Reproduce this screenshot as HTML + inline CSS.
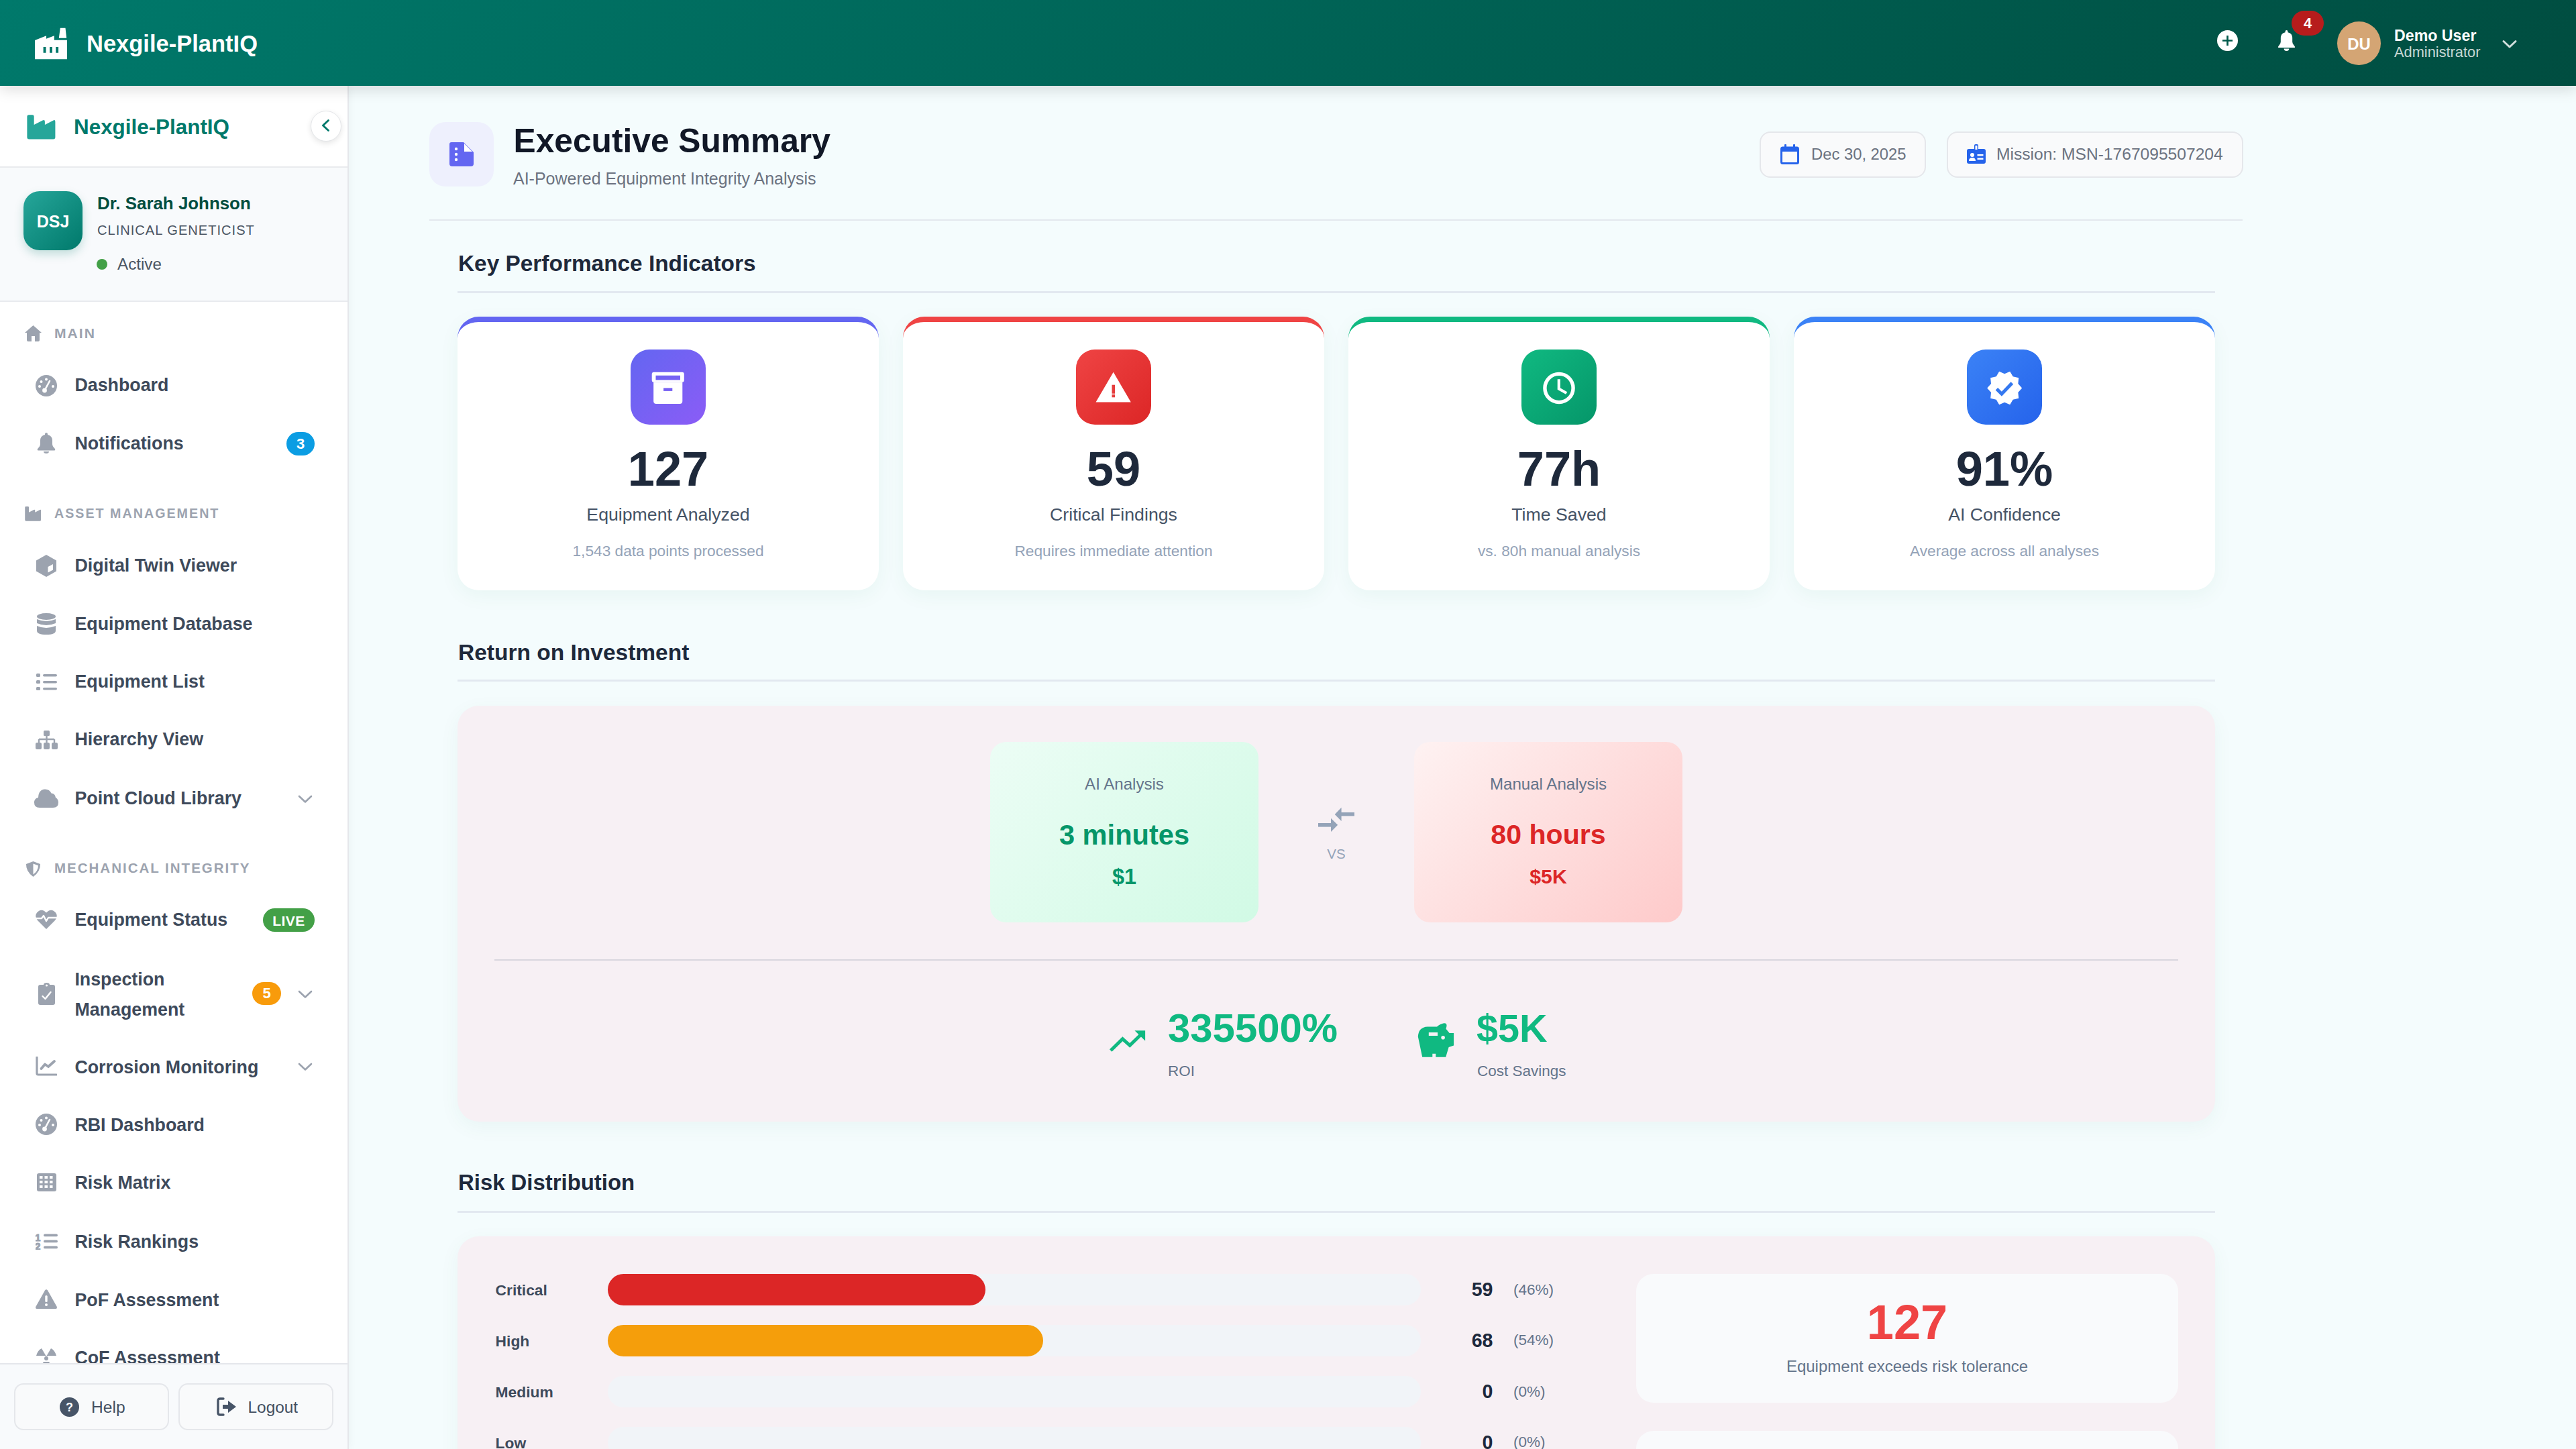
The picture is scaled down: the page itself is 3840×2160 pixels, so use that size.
<!DOCTYPE html>
<html><head><meta charset="utf-8"><title>Executive Summary</title>
<style>
html,body{margin:0;padding:0;}
body{width:3840px;height:2160px;position:relative;overflow:hidden;background:#f4fcfd;font-family:"Liberation Sans", sans-serif;}
.t{position:absolute;line-height:1;white-space:nowrap;font-family:"Liberation Sans", sans-serif;}
svg{display:block;}
@media (max-width: 2600px) { html { zoom: 0.5; } }
</style></head><body>

<div style="position:absolute;left:520px;top:128px;width:3320px;height:2032px;background:#f4fcfd;"></div>
<div style="position:absolute;left:0px;top:0px;width:3840px;height:128px;background:linear-gradient(135deg,#00796b 0%,#004d40 100%);box-shadow:0 6px 20px rgba(0,0,0,0.13);z-index:5;"></div>
<div style="position:absolute;left:0;top:0;width:3840px;height:128px;z-index:6;">
<svg style="position:absolute;left:40px;top:30px;" width="70" height="70" viewBox="0 0 70 70"><path fill="#fff" fill-rule="evenodd" d="M49.8 11.8 H57.5 L59.2 26.8 H47.8 Z M12.1 30 L29 23.2 V27.8 L40.8 23.2 V29.7 H59.9 V58.2 H12.1 Z M24.6 40.1 V48.8 H28.5 V40.1 Z M34 40.1 V48.8 H37.9 V40.1 Z M43.2 40.1 V48.8 H47.1 V40.1 Z"/></svg>
<div class="t" style="left:129px;top:47.8px;font-size:34.5px;font-weight:700;color:#ffffff;">Nexgile-PlantIQ</div>
<svg style="position:absolute;left:3305px;top:45px;" width="31" height="31" viewBox="0 0 32 32"><circle cx="16" cy="16" r="16" fill="#fff"/><path d="M16 9.6 V22.4 M9.6 16 H22.4" stroke="#005a4b" stroke-width="2.8" stroke-linecap="square"/></svg>
<svg style="position:absolute;left:3395px;top:45px;" width="27" height="31" viewBox="0 0 28 32"><path fill="#fff" d="M14 0 Q16 0 16 2 V3.2 Q23 4.6 23 12 V18 Q23 21 26 24 Q27 25 27 26 Q27 27 25.5 27 H2.5 Q1 27 1 26 Q1 25 2 24 Q5 21 5 18 V12 Q5 4.6 12 3.2 V2 Q12 0 14 0 Z M10 28.5 H18 Q18 32 14 32 Q10 32 10 28.5 Z"/></svg>
<div style="position:absolute;left:3416px;top:16px;width:48px;height:37px;background:#b71c1c;border-radius:19px;"></div>
<div class="t" style="left:2440px;width:2000px;text-align:center;top:24.4px;font-size:22px;font-weight:700;color:#fff;">4</div>
<div style="position:absolute;left:3484px;top:32px;width:65px;height:65px;background:#d4a574;border-radius:50%;"></div>
<div class="t" style="left:2516.5px;width:2000px;text-align:center;top:54.2px;font-size:24px;font-weight:700;color:#fff;">DU</div>
<div class="t" style="left:3569px;top:41.9px;font-size:23.2px;font-weight:700;color:#fff;">Demo User</div>
<div class="t" style="left:3569px;top:67.2px;font-size:21.8px;font-weight:400;color:rgba(255,255,255,0.78);">Administrator</div>
<svg style="position:absolute;left:3729px;top:58px;" width="24" height="16" viewBox="0 0 24 16"><path d="M3 3.5 L12 12 L21 3.5" fill="none" stroke="rgba(255,255,255,0.82)" stroke-width="3.0" stroke-linecap="round" stroke-linejoin="round"/></svg>
</div>
<div style="position:absolute;left:0px;top:128px;width:518px;height:2032px;background:#ffffff;box-shadow:2px 0 12px rgba(0,0,0,0.05);"></div>
<div style="position:absolute;left:518px;top:128px;width:1.5px;height:2032px;background:#e5e7eb;"></div>
<svg style="position:absolute;left:40px;top:171px;" width="44" height="37" viewBox="0 0 44 37"><path fill="#26a69a" d="M3 0.2 H8.2 Q10.7 0.2 10.7 2.7 V14.9 L23.5 8.5 Q26.9 7 26.9 10.5 V14.9 L39.5 8.5 Q42.4 7 42.4 10.5 V33.6 Q42.4 36.6 39.4 36.6 H3.4 Q0.4 36.6 0.4 33.6 V2.7 Q0.4 0.2 3 0.2 Z"/></svg>
<div class="t" style="left:110px;top:173.9px;font-size:31.4px;font-weight:700;color:#00796b;">Nexgile-PlantIQ</div>
<div style="position:absolute;left:463px;top:165px;width:46px;height:46px;background:#fff;border:1.5px solid #e3e5e8;border-radius:50%;box-sizing:border-box;box-shadow:0 3px 8px rgba(0,0,0,0.10);"></div>
<svg style="position:absolute;left:478px;top:176px;" width="16" height="22" viewBox="0 0 16 22"><path d="M11.5 3.5 L3.5 11 L11.5 18.5" fill="none" stroke="#00796b" stroke-width="3.0" stroke-linecap="round" stroke-linejoin="round"/></svg>
<div style="position:absolute;left:0px;top:248px;width:518px;height:2px;background:#e9ebee;"></div>
<div style="position:absolute;left:0px;top:250px;width:518px;height:198px;background:#f8fafc;"></div>
<div style="position:absolute;left:0px;top:448px;width:518px;height:2px;background:#e9ebee;"></div>
<div style="position:absolute;left:35px;top:285px;width:88px;height:88px;background:linear-gradient(135deg,#26a69a,#00796b);border-radius:24px;box-shadow:0 6px 14px rgba(0,121,107,0.22);"></div>
<div class="t" style="left:-921px;width:2000px;text-align:center;top:317.8px;font-size:25px;font-weight:700;color:#fff;">DSJ</div>
<div class="t" style="left:145px;top:290.5px;font-size:25.9px;font-weight:700;color:#004d40;">Dr. Sarah Johnson</div>
<div class="t" style="left:145px;top:332.7px;font-size:20.1px;font-weight:400;color:#4b5563;letter-spacing:1px;">CLINICAL GENETICIST</div>
<div style="position:absolute;left:144px;top:386px;width:16px;height:16px;background:#43a047;border-radius:50%;"></div>
<div class="t" style="left:175px;top:381.5px;font-size:24.2px;font-weight:400;color:#4b5563;">Active</div>
<div class="t" style="left:81px;top:485.9px;font-size:21.1px;font-weight:700;color:#9ca3af;letter-spacing:2px;">MAIN</div>
<svg style="position:absolute;left:37px;top:485px" width="25" height="24" viewBox="0 0 25 24"><path fill="#9ca3af" d="M12.5 0 L25 11 H22 V22 Q22 24 20 24 H15 V16 H10 V24 H5 Q3 24 3 22 V11 H0 Z"/></svg>
<svg style="position:absolute;left:53px;top:559px;" width="32" height="32" viewBox="0 0 32 32"><circle cx="16" cy="16" r="16" fill="#9ca3af"/><circle cx="16" cy="6.5" r="2" fill="#fff"/><circle cx="8.5" cy="10" r="2" fill="#fff"/><circle cx="6" cy="17" r="2" fill="#fff"/><circle cx="26" cy="17" r="2" fill="#fff"/><path d="M13.5 23 L21 9" stroke="#fff" stroke-width="2.6" stroke-linecap="round"/><circle cx="13.5" cy="23" r="3.4" fill="#fff"/></svg>
<div class="t" style="left:111.4px;top:561.0px;font-size:26.8px;font-weight:700;color:#3e4a5b;">Dashboard</div>
<svg style="position:absolute;left:55px;top:645px;" width="28" height="31" viewBox="0 0 28 31"><path fill="#9ca3af" d="M14 0 Q16 0 16 2 V3 Q23 4.5 23 12 V17 Q23 20 26.5 23.5 Q28 25 27 26 Q26.5 26.5 25.5 26.5 H2.5 Q1.5 26.5 1 26 Q0 25 1.5 23.5 Q5 20 5 17 V12 Q5 4.5 12 3 V2 Q12 0 14 0 Z M10 28 H18 Q18 31 14 31 Q10 31 10 28 Z"/></svg>
<div class="t" style="left:111.4px;top:648.3px;font-size:26.8px;font-weight:700;color:#3e4a5b;">Notifications</div>
<div style="position:absolute;left:427px;top:644px;width:42px;height:35px;background:#0b9de3;border-radius:18px;"></div>
<div class="t" style="left:-552px;width:2000px;text-align:center;top:650.9px;font-size:22px;font-weight:700;color:#fff;">3</div>
<div class="t" style="left:81px;top:755.6px;font-size:19.7px;font-weight:700;color:#9ca3af;letter-spacing:2px;">ASSET MANAGEMENT</div>
<svg style="position:absolute;left:37px;top:755px" width="25" height="22" viewBox="0 0 44 37" preserveAspectRatio="none"><path fill="#9ca3af" d="M3 0.2 H8.2 Q10.7 0.2 10.7 2.7 V14.9 L23.5 8.5 Q26.9 7 26.9 10.5 V14.9 L39.5 8.5 Q42.4 7 42.4 10.5 V33.6 Q42.4 36.6 39.4 36.6 H3.4 Q0.4 36.6 0.4 33.6 V2.7 Q0.4 0.2 3 0.2 Z"/></svg>
<svg style="position:absolute;left:54px;top:827px;" width="30" height="33" viewBox="0 0 30 33"><path fill="#9ca3af" d="M15 0 L30 8.5 V24.5 L15 33 L0 24.5 V8.5 Z"/><path fill="#fff" d="M17.5 18 L25 14 V22.5 L17.5 26.5 Z"/></svg>
<div class="t" style="left:111.4px;top:830.3px;font-size:26.8px;font-weight:700;color:#3e4a5b;">Digital Twin Viewer</div>
<svg style="position:absolute;left:55px;top:914px;" width="28" height="32" viewBox="0 0 28 32"><ellipse cx="14" cy="5" rx="14" ry="5" fill="#9ca3af"/><path fill="#9ca3af" d="M0 9 Q14 15 28 9 V15 Q14 21 0 15 Z M0 19 Q14 25 28 19 V26 Q28 32 14 32 Q0 32 0 26 Z"/></svg>
<div class="t" style="left:111.4px;top:917.0px;font-size:26.8px;font-weight:700;color:#3e4a5b;">Equipment Database</div>
<svg style="position:absolute;left:54px;top:1004px;" width="31" height="25" viewBox="0 0 31 25"><rect x="0" y="0" width="6" height="5" rx="1.5" fill="#9ca3af"/><rect x="0" y="10" width="6" height="5" rx="1.5" fill="#9ca3af"/><rect x="0" y="20" width="6" height="5" rx="1.5" fill="#9ca3af"/><rect x="10" y="1" width="21" height="3.4" rx="1.7" fill="#9ca3af"/><rect x="10" y="11" width="21" height="3.4" rx="1.7" fill="#9ca3af"/><rect x="10" y="21" width="21" height="3.4" rx="1.7" fill="#9ca3af"/></svg>
<div class="t" style="left:111.4px;top:1003.3px;font-size:26.8px;font-weight:700;color:#3e4a5b;">Equipment List</div>
<svg style="position:absolute;left:53px;top:1089px;" width="33" height="28" viewBox="0 0 33 28"><rect x="12" y="0" width="9" height="8" rx="1.5" fill="#9ca3af"/><path d="M16.5 8 V13 M5 13 H28 M5 13 V18 M16.5 13 V18 M28 13 V18" stroke="#9ca3af" stroke-width="2.4" fill="none"/><rect x="0" y="18" width="9" height="10" rx="2" fill="#9ca3af"/><rect x="12" y="18" width="9" height="10" rx="2" fill="#9ca3af"/><rect x="24" y="18" width="9" height="10" rx="2" fill="#9ca3af"/></svg>
<div class="t" style="left:111.4px;top:1089.3px;font-size:26.8px;font-weight:700;color:#3e4a5b;">Hierarchy View</div>
<svg style="position:absolute;left:51px;top:1176px;" width="36" height="28" viewBox="0 0 36 28"><path fill="#9ca3af" d="M8 28 Q0 28 0 20.5 Q0 14 6 13 Q6.5 1 16 0.5 Q23 0.5 25.5 6.5 Q31 6.5 32 13 Q36 15 36 20.5 Q36 28 28 28 Z"/></svg>
<div class="t" style="left:111.4px;top:1177.3px;font-size:26.8px;font-weight:700;color:#3e4a5b;">Point Cloud Library</div>
<svg style="position:absolute;left:443px;top:1184px;" width="24" height="15" viewBox="0 0 24 15"><path d="M3 3 L12 11.5 L21 3" fill="none" stroke="#9ca3af" stroke-width="2.6" stroke-linecap="round" stroke-linejoin="round"/></svg>
<div class="t" style="left:81px;top:1283.7px;font-size:20.5px;font-weight:700;color:#9ca3af;letter-spacing:2px;">MECHANICAL INTEGRITY</div>
<svg style="position:absolute;left:38px;top:1284px" width="23" height="23" viewBox="0 0 23 23"><path fill="#9ca3af" d="M11.5 0 L22 4 Q22.5 15 11.5 23 Q0.5 15 1 4 Z"/><path fill="#fff" d="M11.5 3.5 L19 6.3 Q18.8 14.5 11.5 19.5 Z"/></svg>
<svg style="position:absolute;left:53px;top:1356px;" width="32" height="29" viewBox="0 0 32 29"><path fill="#9ca3af" d="M16 29 L3 16 Q-2 10 2 4.5 Q7 -1.5 13 2 L16 4.5 L19 2 Q25 -1.5 30 4.5 Q34 10 29 16 Z"/><path d="M0 13 H9 L12 9 L16 17 L19 12 H32" fill="none" stroke="#fff" stroke-width="2.4" stroke-linejoin="round"/></svg>
<div class="t" style="left:111.4px;top:1358.3px;font-size:26.8px;font-weight:700;color:#3e4a5b;">Equipment Status</div>
<div style="position:absolute;left:392px;top:1354px;width:77px;height:35px;background:#43a047;border-radius:18px;"></div>
<div class="t" style="left:-569.5px;width:2000px;text-align:center;top:1362.2px;font-size:21px;font-weight:700;color:#fff;letter-spacing:0.5px;">LIVE</div>
<svg style="position:absolute;left:57px;top:1465px;" width="25" height="33" viewBox="0 0 25 33"><path fill="#9ca3af" d="M3 3 H8 Q8 0 12.5 0 Q17 0 17 3 H22 Q25 3 25 6 V30 Q25 33 22 33 H3 Q0 33 0 30 V6 Q0 3 3 3 Z"/><path d="M6.5 20 L10.5 24 L18.5 14" fill="none" stroke="#fff" stroke-width="2.4" stroke-linecap="round" stroke-linejoin="round"/><circle cx="12.5" cy="4" r="1.6" fill="#fff"/></svg>
<div class="t" style="left:111.4px;top:1446.6px;font-size:26.8px;font-weight:700;color:#3e4a5b;">Inspection</div>
<div class="t" style="left:111.4px;top:1491.6px;font-size:26.8px;font-weight:700;color:#3e4a5b;">Management</div>
<div style="position:absolute;left:376px;top:1464px;width:43px;height:34px;background:#f89b0b;border-radius:17px;"></div>
<div class="t" style="left:-602.5px;width:2000px;text-align:center;top:1470.4px;font-size:22px;font-weight:700;color:#fff;">5</div>
<svg style="position:absolute;left:443px;top:1475px;" width="24" height="15" viewBox="0 0 24 15"><path d="M3 3 L12 11.5 L21 3" fill="none" stroke="#9ca3af" stroke-width="2.6" stroke-linecap="round" stroke-linejoin="round"/></svg>
<svg style="position:absolute;left:53px;top:1575px;" width="32" height="29" viewBox="0 0 32 29"><path d="M2 1 V25 Q2 27 4 27 H31" fill="none" stroke="#9ca3af" stroke-width="3.2" stroke-linecap="round"/><path d="M8.5 18 L14 11.5 L19 15 L28 7" fill="none" stroke="#9ca3af" stroke-width="3.8" stroke-linecap="round" stroke-linejoin="round"/></svg>
<div class="t" style="left:111.4px;top:1577.8px;font-size:26.8px;font-weight:700;color:#3e4a5b;">Corrosion Monitoring</div>
<svg style="position:absolute;left:443px;top:1583px;" width="24" height="15" viewBox="0 0 24 15"><path d="M3 3 L12 11.5 L21 3" fill="none" stroke="#9ca3af" stroke-width="2.6" stroke-linecap="round" stroke-linejoin="round"/></svg>
<svg style="position:absolute;left:53px;top:1660px;" width="32" height="32" viewBox="0 0 32 32"><circle cx="16" cy="16" r="16" fill="#9ca3af"/><circle cx="16" cy="6.5" r="2" fill="#fff"/><circle cx="8.5" cy="10" r="2" fill="#fff"/><circle cx="6" cy="17" r="2" fill="#fff"/><circle cx="26" cy="17" r="2" fill="#fff"/><path d="M13.5 23 L21 9" stroke="#fff" stroke-width="2.6" stroke-linecap="round"/><circle cx="13.5" cy="23" r="3.4" fill="#fff"/></svg>
<div class="t" style="left:111.4px;top:1663.6px;font-size:26.8px;font-weight:700;color:#3e4a5b;">RBI Dashboard</div>
<svg style="position:absolute;left:55px;top:1749px;" width="29" height="27" viewBox="0 0 29 27"><rect x="0" y="0" width="29" height="27" rx="3" fill="#9ca3af"/><rect x="4.0" y="4" width="4.5" height="4" fill="#fff"/><rect x="4.0" y="11" width="4.5" height="4" fill="#fff"/><rect x="4.0" y="18" width="4.5" height="4" fill="#fff"/><rect x="11.5" y="4" width="4.5" height="4" fill="#fff"/><rect x="11.5" y="11" width="4.5" height="4" fill="#fff"/><rect x="11.5" y="18" width="4.5" height="4" fill="#fff"/><rect x="19.0" y="4" width="4.5" height="4" fill="#fff"/><rect x="19.0" y="11" width="4.5" height="4" fill="#fff"/><rect x="19.0" y="18" width="4.5" height="4" fill="#fff"/></svg>
<div class="t" style="left:111.4px;top:1750.3px;font-size:26.8px;font-weight:700;color:#3e4a5b;">Risk Matrix</div>
<svg style="position:absolute;left:53px;top:1838px;" width="33" height="25" viewBox="0 0 33 25"><text x="-0.5" y="11.5" font-family="Liberation Sans" font-weight="700" font-size="14" fill="#9ca3af" stroke="#9ca3af" stroke-width="1.1">1</text><text x="-0.5" y="25" font-family="Liberation Sans" font-weight="700" font-size="14" fill="#9ca3af" stroke="#9ca3af" stroke-width="1.1">2</text><rect x="12" y="1.5" width="21" height="3.8" rx="1.9" fill="#9ca3af"/><rect x="12" y="10.5" width="21" height="3.8" rx="1.9" fill="#9ca3af"/><rect x="12" y="19.5" width="21" height="3.8" rx="1.9" fill="#9ca3af"/></svg>
<div class="t" style="left:111.4px;top:1837.8px;font-size:26.8px;font-weight:700;color:#3e4a5b;">Risk Rankings</div>
<svg style="position:absolute;left:53px;top:1922px;" width="32" height="29" viewBox="0 0 32 29"><path fill="#9ca3af" d="M14 1.5 Q16 -1 18 1.5 L31.5 25.5 Q33 29 29 29 H3 Q-1 29 0.5 25.5 Z"/><rect x="14.3" y="9" width="3.4" height="10" rx="1.5" fill="#fff"/><circle cx="16" cy="23" r="2" fill="#fff"/></svg>
<div class="t" style="left:111.4px;top:1925.3px;font-size:26.8px;font-weight:700;color:#3e4a5b;">PoF Assessment</div>
<svg style="position:absolute;left:53px;top:2009px;" width="32" height="32" viewBox="0 0 32 32"><path fill="#9ca3af" d="M16 13 L9 1 Q3 4 1 12 H13 Z M16 13 L23 1 Q29 4 31 12 H19 Z"/><circle cx="16" cy="16" r="3" fill="#9ca3af"/><path fill="#9ca3af" d="M12 21 L6 31 Q16 35 26 31 L20 21 Z"/></svg>
<div class="t" style="left:111.4px;top:2011.3px;font-size:26.8px;font-weight:700;color:#3e4a5b;">CoF Assessment</div>
<div style="position:absolute;left:0px;top:2032px;width:518px;height:128px;background:#f8fafc;border-top:2px solid #e5e7eb;box-sizing:border-box;"></div>
<div style="position:absolute;left:21px;top:2062px;width:231px;height:70px;background:#f9fafb;border:2px solid #e5e7eb;border-radius:14px;box-sizing:border-box;"></div>
<div style="position:absolute;left:266px;top:2062px;width:231px;height:70px;background:#f9fafb;border:2px solid #e5e7eb;border-radius:14px;box-sizing:border-box;"></div>
<svg style="position:absolute;left:89px;top:2083px;" width="29" height="29" viewBox="0 0 29 29"><circle cx="14.5" cy="14.5" r="14.5" fill="#475467"/><text x="14.5" y="21" text-anchor="middle" font-family="Liberation Sans" font-weight="700" font-size="18" fill="#fff">?</text></svg>
<div class="t" style="left:136px;top:2085.8px;font-size:24.6px;font-weight:400;color:#434f60;">Help</div>
<svg style="position:absolute;left:323px;top:2083px;" width="30" height="28" viewBox="0 0 30 28"><path d="M10 2 H5 Q2 2 2 5 V23 Q2 26 5 26 H10" fill="none" stroke="#475467" stroke-width="3.4" stroke-linecap="round"/><path fill="#475467" d="M9 11 H17 V5 L29 14 L17 23 V17 H9 Z"/></svg>
<div class="t" style="left:369.5px;top:2085.9px;font-size:24.4px;font-weight:400;color:#434f60;">Logout</div>
<div style="position:absolute;left:640px;top:182px;width:96px;height:96px;background:#eef0fd;border-radius:24px;"></div>
<svg style="position:absolute;left:670px;top:212px;" width="36" height="36" viewBox="0 0 36 36"><path fill="#6366f1" d="M3 0 H21 L36 15 V32 Q36 36 32 36 H4 Q0 36 0 32 V3 Q0 0 3 0 Z"/><path fill="#eef0fd" d="M22 0 V14 H36 Z" opacity="0"/><path fill="#fff" d="M22 2 L34 14 H22 Z"/><circle cx="10" cy="10" r="2.2" fill="#fff"/><circle cx="10" cy="18" r="2.2" fill="#fff"/><circle cx="10" cy="26" r="2.2" fill="#fff"/></svg>
<div class="t" style="left:765.5px;top:186.2px;font-size:49.7px;font-weight:700;color:#111827;">Executive Summary</div>
<div class="t" style="left:765px;top:254.1px;font-size:25.0px;font-weight:400;color:#6b7280;">AI-Powered Equipment Integrity Analysis</div>
<div style="position:absolute;left:2623px;top:196px;width:248px;height:69px;background:#f9fafb;border:2px solid #e5e7eb;border-radius:16px;box-sizing:border-box;"></div>
<svg style="position:absolute;left:2654px;top:215px;" width="28" height="30" viewBox="0 0 28 30"><rect x="1.5" y="5" width="25" height="23.5" rx="2" fill="none" stroke="#2563eb" stroke-width="3"/><rect x="1.5" y="5" width="25" height="6" fill="#2563eb"/><rect x="6" y="0" width="3" height="7" rx="1" fill="#2563eb"/><rect x="19" y="0" width="3" height="7" rx="1" fill="#2563eb"/></svg>
<div class="t" style="left:2700px;top:218.3px;font-size:23.8px;font-weight:400;color:#6b7280;">Dec 30, 2025</div>
<div style="position:absolute;left:2902px;top:196px;width:442px;height:69px;background:#f9fafb;border:2px solid #e5e7eb;border-radius:16px;box-sizing:border-box;"></div>
<svg style="position:absolute;left:2932px;top:215px;" width="28" height="29" viewBox="0 0 28 29"><rect x="0" y="7" width="28" height="22" rx="3" fill="#2563eb"/><rect x="11" y="0" width="6" height="10" rx="2" fill="#2563eb"/><rect x="12.5" y="2" width="3" height="6" fill="#fff"/><circle cx="8" cy="16" r="3" fill="#fff"/><path d="M3 25 Q3 20 8 20 Q13 20 13 25 Z" fill="#fff"/><rect x="15.5" y="15" width="9" height="2.4" fill="#fff"/><rect x="15.5" y="20.5" width="9" height="2.4" fill="#fff"/></svg>
<div class="t" style="left:2976px;top:217.7px;font-size:24.6px;font-weight:400;color:#6b7280;">Mission: MSN-1767095507204</div>
<div style="position:absolute;left:640px;top:327px;width:2703px;height:2px;background:#e3e8ee;"></div>
<div class="t" style="left:683px;top:376.4px;font-size:33.4px;font-weight:700;color:#1e293b;">Key Performance Indicators</div>
<div style="position:absolute;left:682px;top:433.5px;width:2620px;height:3px;background:#e2e8f0;"></div>
<div style="position:absolute;left:682px;top:472px;width:628px;height:408px;background:#fff;border-top:8px solid #6366f1;border-radius:32px;box-sizing:border-box;box-shadow:0 8px 30px rgba(20,120,70,0.055);"></div>
<div style="position:absolute;left:940px;top:521px;width:112px;height:112px;background:linear-gradient(135deg,#6366f1,#8b5cf6);border-radius:28px;"></div>
<svg style="position:absolute;left:966px;top:547.5px;" width="60" height="60" viewBox="0 0 60 60"><path fill="#fff" fill-rule="evenodd" d="M8.7 6.8 H50.8 Q53.8 6.8 53.8 9.8 V18.7 Q53.8 21.7 50.8 21.7 H8.7 Q5.7 21.7 5.7 18.7 V9.8 Q5.7 6.8 8.7 6.8 Z M11.5 11.7 V18.4 H48 V11.7 Z"/><path fill="#fff" d="M8.2 21.7 H51.3 V50 Q51.3 54 47.3 54 H12.2 Q8.2 54 8.2 50 Z"/><rect x="23.1" y="30.4" width="13.2" height="4.5" fill="#7761f3"/></svg>
<div class="t" style="left:-4px;width:2000px;text-align:center;top:662.8px;font-size:72.3px;font-weight:700;color:#1e293b;">127</div>
<div class="t" style="left:-4px;width:2000px;text-align:center;top:754.0px;font-size:26.7px;font-weight:400;color:#455366;">Equipment Analyzed</div>
<div class="t" style="left:-4px;width:2000px;text-align:center;top:810.3px;font-size:22.7px;font-weight:400;color:#94a3b8;">1,543 data points processed</div>
<div style="position:absolute;left:1346px;top:472px;width:628px;height:408px;background:#fff;border-top:8px solid #ef4444;border-radius:32px;box-sizing:border-box;box-shadow:0 8px 30px rgba(20,120,70,0.055);"></div>
<div style="position:absolute;left:1604px;top:521px;width:112px;height:112px;background:linear-gradient(135deg,#ef4444,#dc2626);border-radius:28px;"></div>
<svg style="position:absolute;left:1630px;top:547.5px;" width="60" height="60" viewBox="0 0 60 60"><path fill="#fff" d="M29.7 6.8 L55.8 51.5 H3.5 Z"/><rect x="27.5" y="25.7" width="4.6" height="13" fill="#e53d3d"/><rect x="27.5" y="40" width="4.6" height="4.3" fill="#e53d3d"/></svg>
<div class="t" style="left:660px;width:2000px;text-align:center;top:662.8px;font-size:72.3px;font-weight:700;color:#1e293b;">59</div>
<div class="t" style="left:660px;width:2000px;text-align:center;top:754.0px;font-size:26.7px;font-weight:400;color:#455366;">Critical Findings</div>
<div class="t" style="left:660px;width:2000px;text-align:center;top:810.3px;font-size:22.7px;font-weight:400;color:#94a3b8;">Requires immediate attention</div>
<div style="position:absolute;left:2010px;top:472px;width:628px;height:408px;background:#fff;border-top:8px solid #10b981;border-radius:32px;box-sizing:border-box;box-shadow:0 8px 30px rgba(20,120,70,0.055);"></div>
<div style="position:absolute;left:2268px;top:521px;width:112px;height:112px;background:linear-gradient(135deg,#10b981,#059669);border-radius:28px;"></div>
<svg style="position:absolute;left:2294px;top:547.5px;" width="60" height="60" viewBox="0 0 60 60"><circle cx="30" cy="30.5" r="21.1" fill="none" stroke="#fff" stroke-width="5.4"/><path d="M29.8 17.2 V31.6 L41.2 38" fill="none" stroke="#fff" stroke-width="4.2" stroke-linejoin="miter"/></svg>
<div class="t" style="left:1324px;width:2000px;text-align:center;top:662.8px;font-size:72.3px;font-weight:700;color:#1e293b;">77h</div>
<div class="t" style="left:1324px;width:2000px;text-align:center;top:754.0px;font-size:26.7px;font-weight:400;color:#455366;">Time Saved</div>
<div class="t" style="left:1324px;width:2000px;text-align:center;top:810.3px;font-size:22.7px;font-weight:400;color:#94a3b8;">vs. 80h manual analysis</div>
<div style="position:absolute;left:2674px;top:472px;width:628px;height:408px;background:#fff;border-top:8px solid #3b82f6;border-radius:32px;box-sizing:border-box;box-shadow:0 8px 30px rgba(20,120,70,0.055);"></div>
<div style="position:absolute;left:2932px;top:521px;width:112px;height:112px;background:linear-gradient(135deg,#3b82f6,#2563eb);border-radius:28px;"></div>
<svg style="position:absolute;left:2958px;top:547.5px;" width="60" height="60" viewBox="0 0 60 60"><path fill="#fff" d="M56.20 30.50 L50.36 37.05 L51.23 45.78 L42.66 47.65 L38.23 55.23 L30.20 51.70 L22.17 55.23 L17.74 47.65 L9.17 45.78 L10.04 37.05 L4.20 30.50 L10.04 23.95 L9.17 15.22 L17.74 13.35 L22.17 5.77 L30.20 9.30 L38.23 5.77 L42.66 13.35 L51.23 15.22 L50.36 23.95 Z"/><path d="M18.4 31.8 L25.9 39.2 L41.4 23.1" fill="none" stroke="#3478f0" stroke-width="5"/></svg>
<div class="t" style="left:1988px;width:2000px;text-align:center;top:662.8px;font-size:72.3px;font-weight:700;color:#1e293b;">91%</div>
<div class="t" style="left:1988px;width:2000px;text-align:center;top:754.0px;font-size:26.7px;font-weight:400;color:#455366;">AI Confidence</div>
<div class="t" style="left:1988px;width:2000px;text-align:center;top:810.3px;font-size:22.7px;font-weight:400;color:#94a3b8;">Average across all analyses</div>
<div class="t" style="left:683px;top:955.9px;font-size:33.5px;font-weight:700;color:#1e293b;">Return on Investment</div>
<div style="position:absolute;left:682px;top:1012.5px;width:2620px;height:3px;background:#e2e8f0;"></div>
<div style="position:absolute;left:682px;top:1052px;width:2620px;height:620px;background:#f7f0f4;border-radius:32px;box-shadow:0 8px 30px rgba(20,120,70,0.05);"></div>
<div style="position:absolute;left:1476px;top:1106px;width:400px;height:269px;background:linear-gradient(135deg,#ecfdf5,#d1fae5);border-radius:24px;"></div>
<div style="position:absolute;left:2108px;top:1106px;width:400px;height:269px;background:linear-gradient(135deg,#fef2f2,#fecaca);border-radius:24px;"></div>
<div class="t" style="left:676px;width:2000px;text-align:center;top:1156.6px;font-size:24.1px;font-weight:400;color:#64748b;">AI Analysis</div>
<div class="t" style="left:676px;width:2000px;text-align:center;top:1223.8px;font-size:41.6px;font-weight:700;color:#059669;">3 minutes</div>
<div class="t" style="left:676px;width:2000px;text-align:center;top:1290.6px;font-size:32.4px;font-weight:700;color:#059669;">$1</div>
<div class="t" style="left:1308px;width:2000px;text-align:center;top:1156.6px;font-size:24.1px;font-weight:400;color:#64748b;">Manual Analysis</div>
<div class="t" style="left:1308px;width:2000px;text-align:center;top:1224.2px;font-size:41.1px;font-weight:700;color:#dc2626;">80 hours</div>
<div class="t" style="left:1308px;width:2000px;text-align:center;top:1292.3px;font-size:30.3px;font-weight:700;color:#dc2626;">$5K</div>
<svg style="position:absolute;left:1964px;top:1203px;" width="56" height="38" viewBox="0 0 56 38"><rect x="1" y="24" width="20" height="5.6" fill="#94a3b8"/><path fill="#94a3b8" d="M20 16.7 L30.2 26.8 L20 37 Z M35.6 0.8 L25.7 10.9 L35.6 20.9 Z"/><rect x="35" y="8" width="20" height="5.4" fill="#94a3b8"/></svg>
<div class="t" style="left:992px;width:2000px;text-align:center;top:1263.1px;font-size:20.5px;font-weight:400;color:#94a3b8;">VS</div>
<div style="position:absolute;left:737px;top:1430px;width:2510px;height:2px;background:#d9d6de;"></div>
<svg style="position:absolute;left:1640px;top:1510px;" width="80" height="80" viewBox="0 0 80 80"><path d="M15.7 56 L33.4 38.7 L44.2 48.3 L60 33" fill="none" stroke="#10b981" stroke-width="5" stroke-linejoin="miter"/><path fill="#10b981" d="M51.4 26.2 H67.1 V41.4 Z"/></svg>
<div class="t" style="left:1741px;top:1503.3px;font-size:59.9px;font-weight:700;color:#10b981;">335500%</div>
<div class="t" style="left:1741px;top:1585.6px;font-size:22.5px;font-weight:400;color:#64748b;">ROI</div>
<svg style="position:absolute;left:2100px;top:1510px;" width="80" height="80" viewBox="0 0 80 80"><path fill="#10b981" d="M13.8 35.3 Q14.5 21 28 20.4 H42 Q47 16 52.5 15.2 Q57 15 56.5 19.5 L55.5 23.7 L60.7 30.1 H67.1 V48.6 L59.6 51.1 L55.2 65.7 H40.3 V60.7 H35.3 V65.7 H20.2 Z"/><rect x="29.8" y="29" width="13.3" height="5" fill="#f7f0f4"/><circle cx="51.1" cy="36.7" r="2.8" fill="#f7f0f4"/></svg>
<div class="t" style="left:2201px;top:1505.3px;font-size:57.5px;font-weight:700;color:#10b981;">$5K</div>
<div class="t" style="left:2202px;top:1585.6px;font-size:22.5px;font-weight:400;color:#64748b;">Cost Savings</div>
<div class="t" style="left:683px;top:1747.1px;font-size:32.9px;font-weight:700;color:#1e293b;">Risk Distribution</div>
<div style="position:absolute;left:682px;top:1805px;width:2620px;height:3px;background:#e2e8f0;"></div>
<div style="position:absolute;left:682px;top:1843px;width:2620px;height:400px;background:#f7f0f4;border-radius:32px;box-shadow:0 8px 30px rgba(20,120,70,0.05);"></div>
<div class="t" style="left:738.6px;top:1912.0px;font-size:22.8px;font-weight:700;color:#3e4a5b;">Critical</div>
<div style="position:absolute;left:906px;top:1899.0px;width:1212px;height:47px;background:#f1f4f8;border-radius:24px;"></div>
<div style="position:absolute;left:906px;top:1899.0px;width:563px;height:47px;background:#dc2626;border-radius:24px;"></div>
<div class="t" style="left:225.5px;width:2000px;text-align:right;top:1908.3px;font-size:28.6px;font-weight:700;color:#1e293b;">59</div>
<div class="t" style="left:2256px;top:1911.9px;font-size:22.5px;font-weight:400;color:#64748b;">(46%)</div>
<div class="t" style="left:738.6px;top:1987.5px;font-size:22.8px;font-weight:700;color:#3e4a5b;">High</div>
<div style="position:absolute;left:906px;top:1974.5px;width:1212px;height:47px;background:#f1f4f8;border-radius:24px;"></div>
<div style="position:absolute;left:906px;top:1974.5px;width:649px;height:47px;background:#f59e0b;border-radius:24px;"></div>
<div class="t" style="left:225.5px;width:2000px;text-align:right;top:1983.8px;font-size:28.6px;font-weight:700;color:#1e293b;">68</div>
<div class="t" style="left:2256px;top:1987.4px;font-size:22.5px;font-weight:400;color:#64748b;">(54%)</div>
<div class="t" style="left:738.6px;top:2064.0px;font-size:22.8px;font-weight:700;color:#3e4a5b;">Medium</div>
<div style="position:absolute;left:906px;top:2051.0px;width:1212px;height:47px;background:#f1f4f8;border-radius:24px;"></div>
<div class="t" style="left:225.5px;width:2000px;text-align:right;top:2060.3px;font-size:28.6px;font-weight:700;color:#1e293b;">0</div>
<div class="t" style="left:2256px;top:2063.9px;font-size:22.5px;font-weight:400;color:#64748b;">(0%)</div>
<div class="t" style="left:738.6px;top:2139.5px;font-size:22.8px;font-weight:700;color:#3e4a5b;">Low</div>
<div style="position:absolute;left:906px;top:2126.5px;width:1212px;height:47px;background:#f1f4f8;border-radius:24px;"></div>
<div class="t" style="left:225.5px;width:2000px;text-align:right;top:2135.8px;font-size:28.6px;font-weight:700;color:#1e293b;">0</div>
<div class="t" style="left:2256px;top:2139.4px;font-size:22.5px;font-weight:400;color:#64748b;">(0%)</div>
<div style="position:absolute;left:2439px;top:1899px;width:808px;height:192px;background:#f9fafc;border-radius:26px;"></div>
<div class="t" style="left:1843px;width:2000px;text-align:center;top:1934.5px;font-size:72.3px;font-weight:700;color:#ef4444;">127</div>
<div class="t" style="left:1843px;width:2000px;text-align:center;top:2025.0px;font-size:24.0px;font-weight:400;color:#64748b;">Equipment exceeds risk tolerance</div>
<div style="position:absolute;left:2439px;top:2133px;width:808px;height:192px;background:#f9fafc;border-radius:26px;"></div>
</body></html>
